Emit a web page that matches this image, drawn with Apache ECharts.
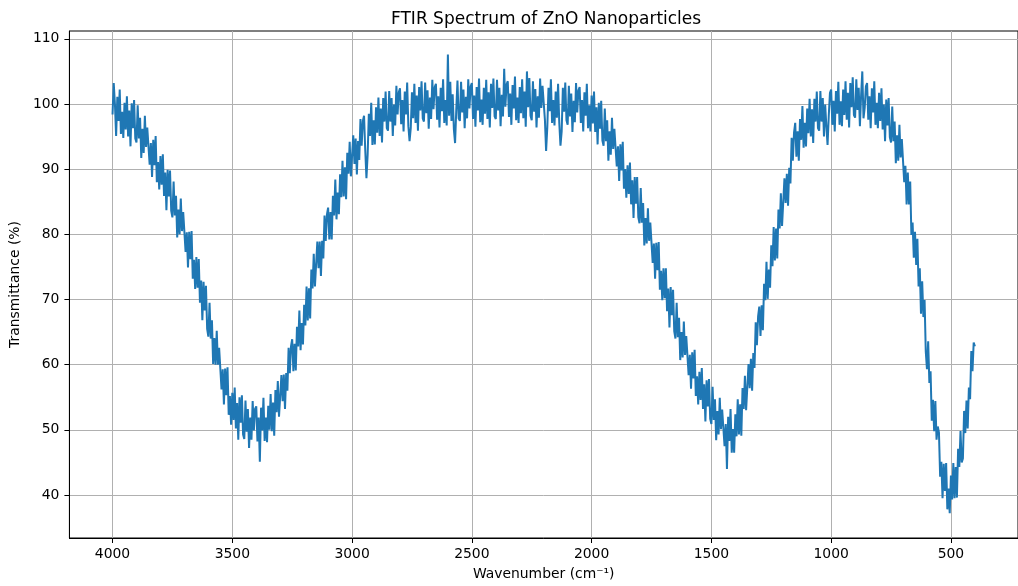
<!DOCTYPE html>
<html>
<head>
<meta charset="utf-8">
<title>FTIR Spectrum of ZnO Nanoparticles</title>
<script src="https://cdn.jsdelivr.net/npm/echarts@6/dist/echarts.min.js"></script>
<style>
	html, body { margin: 0; padding: 0; background: #fff; }
	#main { width: 1018px; height: 586px; }
</style>
</head>
<body>
<div id="main"></div>
<script>
// wavenumber grid: 4000 down to 400 cm-1, one reading every 5 cm-1
var waveStart = 4000;
var waveStep = 5;

// transmittance (%), one row per 100 cm-1
var transmittance = [
	98.4, 103.2, 100.0, 95.1, 101.1, 97.4, 102.2, 95.4, 98.8, 94.8, 100.2, 96.1, 101.2, 95.0, 99.0, 93.5, 100.1, 96.3, 100.6, 94.7,      // 4000
	94.1, 99.8, 94.7, 97.9, 91.7, 96.2, 92.5, 98.2, 93.4, 96.4, 96.6, 90.7, 94.0, 88.8, 94.5, 90.6, 95.1, 88.0, 91.1, 86.9,              // 3900
	92.0, 87.6, 92.3, 85.9, 89.5, 83.7, 89.9, 85.8, 89.8, 83.6, 82.6, 88.1, 82.9, 85.9, 79.5, 83.8, 80.0, 85.5, 80.5, 83.4,              // 3800
	83.4, 77.3, 80.3, 74.9, 80.4, 76.2, 80.5, 73.2, 76.1, 71.6, 76.5, 71.8, 76.2, 69.5, 72.9, 66.8, 72.7, 68.3, 72.1, 65.5,              // 3700
	64.3, 69.5, 64.0, 66.8, 60.1, 64.1, 60.0, 65.2, 60.0, 62.6, 62.3, 56.2, 59.3, 53.9, 59.4, 55.3, 59.6, 52.3, 55.2, 50.8,              // 3600
	55.7, 51.5, 56.5, 50.2, 54.1, 48.5, 55.0, 51.1, 55.3, 49.3, 48.6, 54.5, 49.7, 53.2, 47.2, 51.9, 48.5, 54.4, 49.9, 53.2,              // 3500
	53.6, 48.2, 51.9, 45.1, 53.4, 49.9, 54.9, 48.3, 51.9, 48.1, 53.7, 50.0, 55.5, 49.8, 54.2, 49.1, 56.1, 52.7, 57.5, 52.0,              // 3400
	51.8, 58.4, 54.4, 58.5, 53.2, 58.7, 56.0, 62.6, 58.7, 62.8, 63.9, 59.0, 63.2, 59.1, 65.8, 62.8, 68.3, 62.2, 66.4, 63.1,              // 3300
	69.2, 66.0, 72.0, 66.8, 71.7, 67.1, 74.6, 71.7, 77.0, 72.0, 72.3, 78.9, 74.8, 78.9, 73.6, 79.0, 76.3, 82.9, 79.0, 83.0,              // 3200
	84.1, 79.2, 83.4, 79.2, 85.9, 82.9, 88.4, 82.3, 86.4, 83.1, 89.2, 85.7, 91.3, 85.8, 90.3, 85.4, 92.5, 89.3, 94.2, 88.9,              // 3100
	88.8, 95.2, 90.8, 94.7, 89.2, 94.3, 91.4, 97.7, 93.6, 97.4, 98.2, 92.9, 88.6, 92.2, 98.5, 95.1, 100.2, 93.7, 97.5, 93.8,             // 3000
	99.5, 95.6, 101.0, 95.1, 99.3, 94.1, 100.9, 97.3, 101.9, 96.3, 95.9, 102.0, 97.3, 100.9, 95.1, 99.9, 96.7, 102.8, 98.4, 101.8,        // 2900
	102.4, 96.9, 100.6, 95.8, 101.9, 98.4, 103.3, 96.6, 94.3, 96.3, 101.8, 97.8, 103.1, 97.1, 101.3, 95.9, 102.6, 99.0, 103.5, 97.8,     // 2800
	97.3, 103.3, 98.6, 102.1, 96.2, 101.0, 97.7, 103.7, 99.2, 102.6, 103.1, 97.6, 101.2, 96.4, 102.5, 98.9, 103.8, 97.1, 100.6, 96.7,    // 2700
	107.6, 98.2, 103.4, 97.4, 101.5, 96.1, 94.0, 99.1, 103.6, 97.8, 97.4, 103.4, 98.7, 102.2, 96.3, 101.1, 97.8, 103.8, 99.3, 102.7,    // 2600
	103.2, 97.7, 101.3, 96.5, 102.6, 99.0, 103.9, 97.2, 100.7, 96.8, 102.5, 98.5, 103.7, 97.7, 101.8, 96.4, 103.1, 99.4, 103.9, 98.1,    // 2500
	97.7, 103.7, 99.0, 102.5, 96.6, 101.4, 98.1, 105.4, 99.6, 103.0, 103.5, 98.0, 101.6, 96.8, 102.9, 99.3, 104.2, 97.5, 101.0, 97.1,    // 2400
	102.6, 98.6, 103.8, 97.8, 101.9, 96.5, 105.0, 99.5, 104.0, 98.2, 97.5, 103.5, 98.8, 102.3, 96.4, 101.2, 97.9, 103.9, 99.4, 102.8,    // 2300
	103.1, 97.6, 92.8, 96.4, 102.5, 98.9, 103.8, 97.1, 100.6, 96.7, 101.9, 97.9, 103.1, 97.1, 93.6, 95.8, 102.5, 98.8, 103.3, 97.5,      // 2200
	96.8, 102.8, 98.1, 101.6, 95.7, 100.5, 97.2, 103.2, 98.7, 102.1, 102.6, 97.1, 100.6, 95.8, 101.8, 98.2, 103.1, 96.3, 99.8, 95.8,     // 2100
	101.3, 97.0, 101.9, 95.7, 99.5, 93.8, 100.2, 96.2, 100.5, 94.4, 93.6, 99.3, 94.3, 97.5, 91.3, 95.8, 92.2, 97.9, 93.1, 96.2,          // 2000
	96.4, 90.4, 93.5, 88.2, 93.8, 89.8, 94.2, 87.0, 90.0, 85.6, 90.6, 86.2, 91.0, 84.6, 88.3, 82.5, 88.8, 84.7, 88.8, 82.6,              // 1900
	81.7, 87.1, 81.8, 84.8, 78.3, 82.5, 78.6, 84.0, 79.0, 81.8, 81.7, 75.6, 78.6, 73.2, 78.7, 74.5, 78.8, 71.5, 74.4, 69.9,              // 1800
	74.8, 70.2, 74.8, 68.2, 71.7, 65.7, 71.9, 67.6, 71.5, 65.1, 64.0, 69.5, 64.2, 67.2, 60.7, 65.0, 61.1, 66.6, 61.5, 64.4,              // 1700
	64.3, 58.4, 61.5, 56.3, 61.9, 57.9, 62.3, 55.2, 58.2, 53.9, 58.9, 54.6, 59.5, 53.2, 57.0, 51.3, 57.6, 53.6, 57.8, 51.7,              // 1600
	50.9, 56.6, 51.5, 54.7, 48.4, 52.9, 49.3, 54.9, 50.1, 53.1, 53.3, 47.5, 50.9, 44.0, 52.0, 48.3, 53.2, 46.5, 50.1, 46.5,              // 1500
	52.4, 49.0, 54.7, 49.3, 53.9, 49.1, 56.4, 53.2, 58.3, 53.0, 53.1, 60.1, 56.4, 60.9, 56.0, 61.8, 59.5, 66.5, 63.0, 67.4,              // 1400
	68.9, 64.4, 69.1, 65.3, 72.4, 69.9, 75.8, 70.1, 74.6, 71.8, 78.3, 75.1, 81.1, 76.0, 80.9, 76.3, 83.8, 80.9, 86.3, 81.3,              // 1300
	81.6, 88.6, 84.8, 89.3, 84.4, 90.2, 87.8, 94.8, 91.3, 95.6, 97.1, 91.9, 95.8, 91.3, 97.7, 94.5, 99.7, 93.3, 97.1, 93.5,              // 1200
	99.3, 95.5, 100.8, 95.0, 99.2, 94.0, 100.8, 97.3, 101.9, 96.3, 95.9, 102.0, 97.3, 100.9, 95.0, 99.9, 96.6, 93.7, 98.2, 101.7,        // 1100
	102.2, 96.8, 100.5, 95.8, 102.0, 98.5, 103.4, 96.8, 100.4, 96.6, 102.2, 98.3, 103.5, 97.6, 101.7, 96.4, 103.2, 99.5, 104.1, 98.3,    // 1000
	97.9, 103.8, 99.1, 102.5, 96.6, 101.3, 105.0, 97.8, 99.4, 102.7, 103.2, 97.6, 101.2, 96.3, 102.4, 98.7, 103.5, 96.8, 100.2, 96.3,    // 900
	101.7, 97.4, 102.4, 96.1, 99.9, 94.3, 100.7, 96.7, 100.9, 94.9, 94.1, 99.6, 94.3, 97.3, 90.9, 95.2, 91.3, 96.8, 91.8, 94.6,          // 800
	94.6, 88.0, 90.5, 84.6, 89.5, 84.6, 88.1, 79.9, 81.8, 76.4, 80.4, 75.3, 79.3, 72.0, 74.8, 67.8, 72.8, 67.3, 69.9, 62.0,              // 700
	59.3, 63.6, 57.2, 59.0, 51.4, 54.6, 49.8, 54.4, 48.5, 50.5, 49.6, 42.8, 45.1, 39.5, 44.8, 40.6, 44.9, 37.8, 41.0, 37.2,              // 600
	43.0, 39.3, 44.9, 39.5, 44.3, 39.6, 47.1, 44.3, 49.8, 45.0, 45.6, 52.9, 49.5, 54.5, 50.2, 56.5, 54.7, 62.1, 59.0, 63.4,              // 500
	62.8                                                                                                                                    // 400
];

var xTicks = [4000, 3500, 3000, 2500, 2000, 1500, 1000, 500];
var yTicks = [40, 50, 60, 70, 80, 90, 100, 110];

var spectrum = [];
for (var i = 0; i < transmittance.length; i++) {
	spectrum.push([waveStart - i * waveStep, transmittance[i]]);
}

var fontFamily = 'DejaVu Sans';
var myChart = echarts.init(document.getElementById('main'), null, { renderer: 'canvas' });

var option = {
	animation: false,
	backgroundColor: '#ffffff',
	title: {
		text: 'FTIR Spectrum of ZnO Nanoparticles',
		left: 386,
		top: 6,
		textStyle: {
			fontFamily: fontFamily,
			fontSize: 17,
			fontWeight: 'normal',
			color: '#000'
		}
	},
	grid: {
		left: 68,
		top: 31,
		width: 953, // right spine falls just past the picture edge
		height: 509,
		show: true,
		borderColor: '#000',
		borderWidth: 1,
		containLabel: false
	},
	xAxis: {
		type: 'value',
		inverse: true,
		min: 220,
		max: 4180,
		name: 'Wavenumber (cm\u207B\u00B9)',
		nameLocation: 'middle',
		nameGap: 29,
		nameTextStyle: { fontFamily: fontFamily, fontSize: 13.9, color: '#000' },
		axisLine: { lineStyle: { color: '#000', width: 1 } },
		axisTick: { show: true, length: 5, customValues: xTicks, lineStyle: { color: '#000' } },
		axisLabel: {
			customValues: xTicks,
			margin: 9,
			fontFamily: fontFamily,
			fontSize: 13.9,
			color: '#000',
			formatter: function(v) { return String(v); }
		},
		splitLine: { show: true, lineStyle: { color: '#b0b0b0', width: 1 } }
	},
	yAxis: {
		type: 'value',
		min: 33.4,
		max: 111.2,
		name: 'Transmittance (%)',
		nameLocation: 'middle',
		nameGap: 45,
		nameTextStyle: { fontFamily: fontFamily, fontSize: 13.9, color: '#000' },
		axisLine: { show: true, lineStyle: { color: '#000', width: 1 } },
		axisTick: { show: true, length: 5, customValues: yTicks, lineStyle: { color: '#000' } },
		axisLabel: {
			customValues: yTicks,
			margin: 10,
			fontFamily: fontFamily,
			fontSize: 13.9,
			color: '#000',
			formatter: function(v) { return String(v); }
		},
		splitLine: { show: true, lineStyle: { color: '#b0b0b0', width: 1 } }
	},
	series: [{
		name: 'ZnO',
		type: 'line',
		data: spectrum,
		showSymbol: false,
		symbol: 'none',
		lineStyle: { color: '#1f77b4', width: 2 },
		z: 3
	}]
};
myChart.setOption(option);
</script>
</body>
</html>
